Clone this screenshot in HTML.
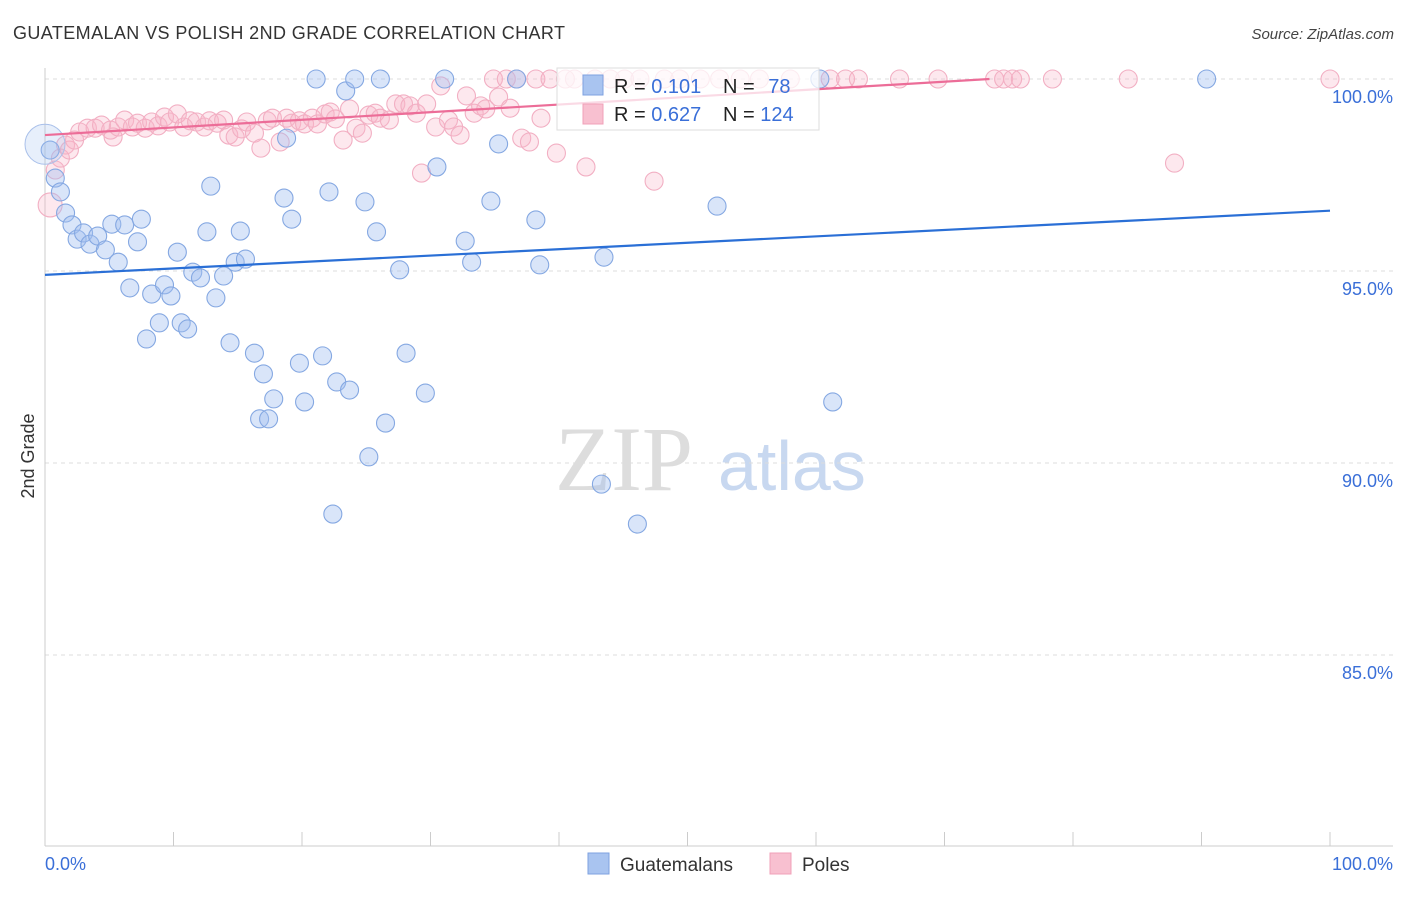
<!DOCTYPE html>
<html><head><meta charset="utf-8"><style>
body{margin:0;background:#fff;font-family:"Liberation Sans",sans-serif}
</style></head><body>
<svg id="c" width="1406" height="892" xmlns="http://www.w3.org/2000/svg" font-family="Liberation Sans, sans-serif">
<text x="13" y="39" font-size="18" fill="#333" textLength="552">GUATEMALAN VS POLISH 2ND GRADE CORRELATION CHART</text>
<text x="1394" y="39" font-size="15" fill="#444" text-anchor="end" font-style="italic">Source: ZipAtlas.com</text>
<text transform="translate(34,456) rotate(-90)" font-size="18" fill="#333" text-anchor="middle">2nd Grade</text>
<g><text x="555" y="490" font-size="92" fill="#ddd" font-family="Liberation Serif, serif">ZIP</text><text x="718" y="490" font-size="70" fill="#c8d8f0">atlas</text></g>
<g id="grid"></g><g id="pts"></g><g id="lines"></g>
<g>
<rect x="557" y="68" width="262" height="62" fill="#fff" fill-opacity="0.75" stroke="#ddd"/>
<rect x="583" y="75" width="20" height="20" fill="#a9c4f0" stroke="#7ea2e0"/>
<rect x="583" y="104" width="20" height="20" fill="#f8c0d0" stroke="#f0a0b8"/>
<text x="614" y="93" font-size="20" fill="#222">R = <tspan fill="#3a6fd8">0.101</tspan></text>
<text x="723" y="93" font-size="20" fill="#222">N = <tspan fill="#3a6fd8" dx="8">78</tspan></text>
<text x="614" y="121" font-size="20" fill="#222">R = <tspan fill="#3a6fd8">0.627</tspan></text>
<text x="723" y="121" font-size="20" fill="#222">N = <tspan fill="#3a6fd8">124</tspan></text>
</g>
<g>
<rect x="588" y="853" width="21" height="21" fill="#a9c4f0" stroke="#7ea2e0"/><text x="620" y="871" font-size="19" fill="#333">Guatemalans</text>
<rect x="770" y="853" width="21" height="21" fill="#f8c0d0" stroke="#f0a0b8"/><text x="802" y="871" font-size="19" fill="#333">Poles</text>
</g>
<text x="45" y="870" font-size="18" fill="#3a6fd8">0.0%</text>
<text x="1393" y="870" font-size="18" fill="#3a6fd8" text-anchor="end">100.0%</text>
</svg>
<script>
const blueX=[0.4,0.8,1.2,1.6,2.1,2.5,3.0,3.5,4.1,4.7,5.2,5.7,6.2,6.6,7.2,7.5,7.9,8.3,8.9,9.3,9.8,10.3,10.6,11.1,11.5,12.1,12.6,12.9,13.3,13.9,14.4,14.8,15.2,15.6,16.3,16.7,17.0,17.4,17.8,18.6,18.8,19.2,19.8,20.2,21.1,21.6,22.1,22.4,22.7,23.4,23.7,24.1,24.9,25.2,25.8,26.1,26.5,27.6,28.1,29.6,30.5,31.1,32.7,33.2,34.7,35.3,36.7,38.2,38.5,43.3,43.5,46.1,52.3,60.3,61.3,90.4];
const blueY=[98.15,97.42,97.06,96.51,96.2,95.83,95.99,95.7,95.91,95.55,96.22,95.23,96.2,94.56,95.76,96.35,93.23,94.4,93.65,94.64,94.35,95.49,93.65,93.49,94.97,94.82,96.02,97.21,94.3,94.87,93.13,95.23,96.04,95.31,92.86,91.15,92.32,91.15,91.67,96.9,98.46,96.35,92.6,91.59,100,92.79,97.06,88.67,92.11,99.69,91.9,100,96.8,90.16,96.02,100,91.04,95.03,92.86,91.82,97.71,100,95.78,95.23,96.82,98.31,100,96.33,95.16,89.45,95.36,88.41,96.69,100,91.59,100];
const pinkX=[0.4,0.8,1.2,1.6,1.9,2.3,2.7,3.3,3.9,4.4,5.1,5.3,5.7,6.2,6.8,7.2,7.8,8.3,8.8,9.3,9.7,10.3,10.8,11.3,11.8,12.4,12.8,13.4,13.9,14.3,14.8,15.3,15.7,16.3,16.8,17.3,17.7,18.3,18.8,19.2,19.8,20.2,20.8,21.2,21.8,22.2,22.6,23.2,23.7,24.2,24.7,25.2,25.7,26.1,26.8,27.3,27.9,28.4,28.9,29.3,29.7,30.4,30.8,31.4,31.8,32.3,32.8,33.4,33.9,34.3,34.9,35.3,35.9,36.2,36.7,37.1,37.7,38.2,38.6,39.3,39.8,40.5,41.2,42.1,42.8,44.0,45.1,46.3,47.4,48.2,49.4,51.0,52.5,54.1,55.6,58.0,61.1,62.3,63.3,66.5,69.5,73.9,74.6,75.3,75.9,78.4,84.3,87.9,100];
const pinkY=[96.72,97.63,97.94,98.28,98.15,98.41,98.62,98.72,98.72,98.8,98.67,98.49,98.75,98.93,98.75,98.85,98.72,98.88,98.78,99.01,98.88,99.09,98.75,98.91,98.88,98.75,98.91,98.85,98.93,98.54,98.49,98.7,98.88,98.59,98.2,98.91,98.98,98.36,98.98,98.85,98.91,98.83,98.98,98.83,99.09,99.14,98.96,98.41,99.22,98.72,98.59,99.06,99.11,98.98,98.93,99.35,99.35,99.3,99.11,97.55,99.35,98.75,99.82,98.93,98.75,98.54,99.56,99.11,99.3,99.22,100,99.53,100,99.24,100,98.46,98.36,100,98.98,100,98.07,100,100,97.71,100,100,100,100,97.34,100,100,100,100,100,100,100,100,100,100,100,100,100,100,100,100,100,100,97.81,100];
const yTicks=[100,95,90,85];
const yTickLabels=["100.0%","95.0%","90.0%","85.0%"];
const blueTrend=[[0,94.9],[100,96.57]];
const pinkTrend=[[0,98.54],[73.5,100]];
const NS='http://www.w3.org/2000/svg';
const sx=v=>45+v*12.85, sy=v=>79+(100-v)*38.4;
function mk(tag,at,parent){const e=document.createElementNS(NS,tag);for(const k in at)e.setAttribute(k,at[k]);document.getElementById(parent).appendChild(e);return e;}
yTicks.forEach((t,i)=>{
 const l=mk('line',{x1:45,x2:1393,y1:sy(t),y2:sy(t),stroke:'#ddd','stroke-dasharray':'4,4'},'grid');
 
 
 const tx=mk('text',{x:1393,y:sy(t)+24,'font-size':18,fill:'#3a6fd8','text-anchor':'end'},'grid');tx.textContent=yTickLabels[i];
 
 
});
const ax=mk('line',{x1:45,x2:45,y1:68,y2:846,stroke:'#ccc'},'grid');


const bx=mk('line',{x1:45,x2:1393,y1:846,y2:846,stroke:'#ccc'},'grid');


for(let i=0;i<=10;i++){const t=mk('line',{x1:sx(i*10),x2:sx(i*10),y1:832,y2:846,stroke:'#ccc'},'grid');
 
 }
pinkX.forEach((x,i)=>{const c=mk('circle',{cx:sx(x),cy:sy(pinkY[i]),r:i==0?12:9,fill:'rgba(248,180,200,0.3)',stroke:'#f2afc3','stroke-width':1.1},'pts');
 
 });
blueX.forEach((x,i)=>{const c=mk('circle',{cx:sx(x),cy:sy(blueY[i]),r:9,fill:'rgba(160,190,240,0.4)',stroke:'#85a8e2','stroke-width':1.1},'pts');
 
 });
const big=mk('circle',{cx:sx(0),cy:sy(98.3),r:20,fill:'rgba(160,190,240,0.25)',stroke:'#a9c0ea'},'pts');


const bl=mk('line',{x1:sx(blueTrend[0][0]),y1:sy(blueTrend[0][1]),x2:sx(blueTrend[1][0]),y2:sy(blueTrend[1][1]),stroke:'#2a6fd6','stroke-width':2.2},'lines');


const pl=mk('line',{x1:sx(pinkTrend[0][0]),y1:sy(pinkTrend[0][1]),x2:sx(pinkTrend[1][0]),y2:sy(pinkTrend[1][1]),stroke:'#ec6d98','stroke-width':2.2},'lines');


</script>
</body></html>
